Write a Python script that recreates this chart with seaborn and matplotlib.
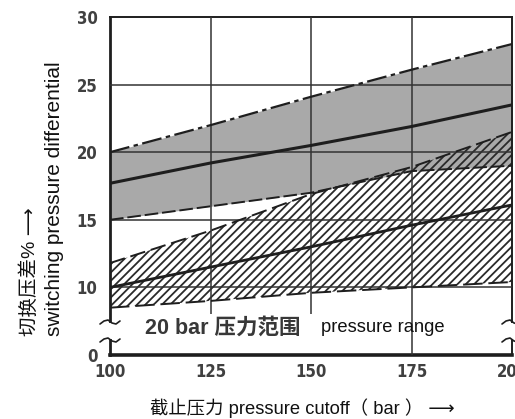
import matplotlib
matplotlib.use("Agg")
import matplotlib.pyplot as plt
from matplotlib.font_manager import FontProperties
from matplotlib.patches import Rectangle
from matplotlib.lines import Line2D
import seaborn as sns

# 截止压力 (bar)
pressure = [100, 125, 150, 175, 200]

# 灰色区域 (上/中/下)
gray_upper = [20.0, 22.0, 24.1, 26.1, 28.0]
gray_mid = [17.7, 19.2, 20.5, 21.9, 23.5]
gray_lower = [15.0, 16.0, 17.0, 18.6, 19.0]

# 20 bar 压力范围 (斜线区域)
hatch_upper = [11.8, 14.2, 16.9, 18.9, 21.5]
hatch_mid = [10.0, 11.5, 13.0, 14.6, 16.1]
hatch_lower = [8.5, 9.0, 9.6, 10.0, 10.4]

x_ticks = [100, 125, 150, 175, 200]
y_ticks = [5, 10, 15, 20, 25, 30]
y_tick_labels = ["0", "10", "15", "20", "25", "30"]

sns.set_theme(style="white")
plt.rcParams["font.family"] = ["Liberation Sans", "Noto Sans CJK SC", "DejaVu Sans"]
plt.rcParams["hatch.linewidth"] = 1.3
plt.rcParams["hatch.color"] = "#2a2a2a"

W, H = 515, 419
fig = plt.figure(figsize=(W / 100, H / 100), dpi=100)
ax = fig.add_axes([110 / W, 1 - 355 / H, 402 / W, 338 / H])

dark = "#1e1e1e"

# 灰色带
ax.fill_between(pressure, gray_lower, gray_upper, color="#a9a9a9", lw=0, zorder=1)
# 斜线带
ax.fill_between(pressure, hatch_lower, hatch_upper, facecolor="none",
                hatch="////", edgecolor="#2a2a2a", lw=0, zorder=2)

# 网格
for v in y_ticks[1:-1]:
    ax.axhline(v, color="#333333", lw=1.1, zorder=3)
ax.vlines(x_ticks[1:3], 8.0, 30, color="#333333", lw=1.1, zorder=3)
ax.vlines(x_ticks[3], 5, 30, color="#333333", lw=1.1, zorder=3)

# 边界线
sns.lineplot(x=pressure, y=gray_upper, ax=ax, color=dark, lw=1.6, linestyle=(0, (9, 2, 2, 2)), zorder=4)
sns.lineplot(x=pressure, y=gray_mid, ax=ax, color=dark, lw=2.2, zorder=4)
sns.lineplot(x=pressure, y=gray_lower, ax=ax, color=dark, lw=1.4, linestyle=(0, (7, 2)), zorder=4)
sns.lineplot(x=pressure, y=hatch_upper, ax=ax, color=dark, lw=1.4, linestyle=(0, (8, 3)), zorder=4)
sns.lineplot(x=pressure, y=hatch_mid, ax=ax, color=dark, lw=2.0, zorder=4)
sns.lineplot(x=pressure, y=hatch_lower, ax=ax, color=dark, lw=1.4, linestyle=(0, (10, 3)), zorder=4)

ax.set_xlim(100, 200)
ax.set_ylim(5, 30)
ax.set_xticks(x_ticks)
ax.set_yticks(y_ticks)
ax.set_yticklabels(y_tick_labels)
tick_fp = FontProperties(family="DejaVu Sans", stretch="condensed", weight="bold", size=12)
for lab in ax.get_xticklabels() + ax.get_yticklabels():
    lab.set_fontproperties(tick_fp)
    lab.set_color("#404040")
ax.tick_params(axis="y", length=0, pad=9)
ax.tick_params(axis="x", length=0, pad=6)

for side in ["left", "bottom", "top", "right"]:
    ax.spines[side].set_color(dark)
ax.spines["left"].set_linewidth(2.0)
ax.spines["bottom"].set_linewidth(2.6)
ax.spines["top"].set_linewidth(1.4)
ax.spines["right"].set_linewidth(1.4)
ax.set_xlabel("")
ax.set_ylabel("")

# 断轴标记 (像素偏移的小波浪线)
wave_dx = [-10, -6, -2, 2, 6, 10]
wave_dy = [2, -1, -2, 1, 2, -1]
for xx in (110, 512):
    fig.patches.append(Rectangle(((xx - 3) / W, 1 - 339 / H), 6 / W, 16 / H,
                                 transform=fig.transFigure, fc="white", ec="none", zorder=5))
    for yy in (322, 340):
        fig.add_artist(Line2D([(xx + d) / W for d in wave_dx],
                              [1 - (yy + d) / H for d in wave_dy],
                              color=dark, lw=1.2, zorder=6))

# 区域说明
ax.text(108.6, 7.0, "20 bar 压力范围", fontsize=15.5, fontweight="bold", color="#383838",
        va="center", ha="left", zorder=5,
        bbox=dict(fc="white", ec="none", pad=1.5))
ax.text(152.4, 7.0, "pressure range", fontsize=13.2, color="#111111", va="center", ha="left", zorder=5)

# 坐标轴标题
fig.text(302 / W, 1 - 408 / H, "截止压力 pressure cutoff（ bar ） ⟶", fontsize=13.2,
         ha="center", va="center", color="#111111")
fig.text(30 / W, 1 - 336 / H, "切换压差% ⟶", rotation=90, fontsize=14,
         ha="center", va="bottom", color="#111111")
fig.text(55 / W, 1 - 336 / H, "switching pressure differential", rotation=90, fontsize=15,
         ha="center", va="bottom", color="#111111")

fig.savefig("out.png", dpi=100)
